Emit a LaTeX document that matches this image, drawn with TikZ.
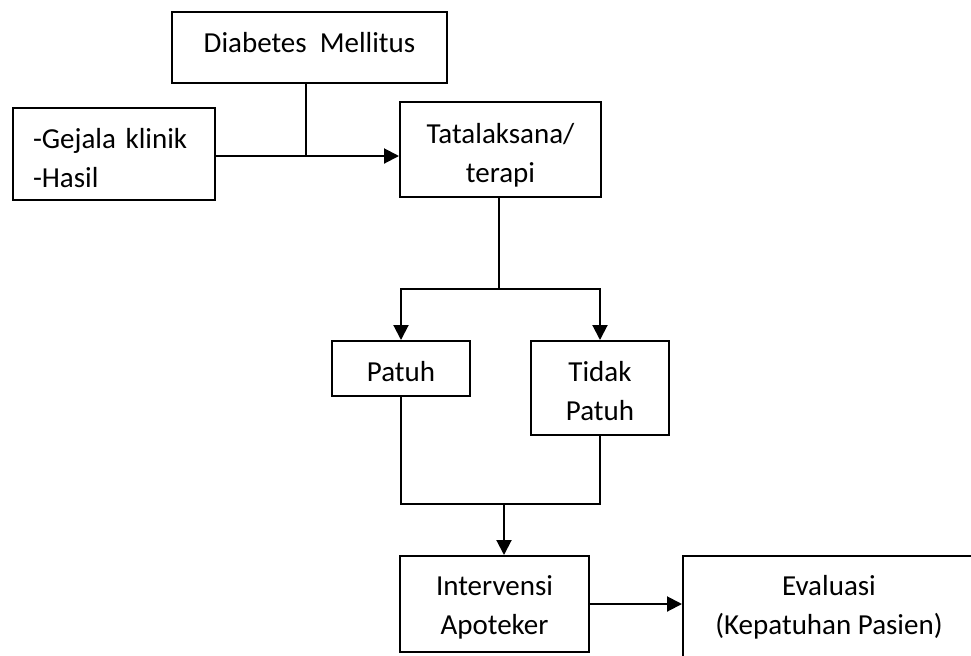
\documentclass[tikz,border=0pt]{standalone}
\usepackage{fontspec}
\setmainfont{Carlito}
\usetikzlibrary{arrows.meta}
\begin{document}
\begin{tikzpicture}[x=0.5pt,y=-0.5pt,line width=1pt,
    box/.style={draw, inner sep=0pt, font=\fontsize{14.5}{19.5}\selectfont, align=center},
    arr/.style={-{Triangle[length=7.5pt,width=7.5pt]}}]
    \useasboundingbox (0,0) rectangle (971,655);

    % Draw boxes
    \node[box, minimum width=137.5pt, minimum height=35.5pt, text height=10pt, text depth=5.5pt] (dm) at (309.5, 47.5) {Diabetes\ \ Mellitus};
    \node[box, align=left, inner xsep=10pt, text width=81pt, minimum height=46pt, text height=13.5pt, text depth=19.5pt] (gejala) at (114, 154) {-Gejala klinik\\-Hasil};
    \node[box, minimum width=100.5pt, minimum height=47.5pt, text height=32.5pt, text depth=0pt] (terapi) at (500.5, 149.5) {Tatalaksana/\\terapi};
    \node[box, minimum width=69pt, minimum height=27.5pt, text height=12.5pt, text depth=0pt] (patuh) at (401, 368.5) {Patuh};
    \node[box, minimum width=69pt, minimum height=47pt, text height=32pt, text depth=0pt] (tidak) at (600, 388) {Tidak\\Patuh};
    \node[box, minimum width=94.5pt, minimum height=48pt, text height=30pt, text depth=0pt] (apoteker) at (494.5, 604) {Intervensi\\Apoteker};
    \node[box, minimum width=146pt, minimum height=53pt, text height=25pt, text depth=0pt] (evaluasi) at (829, 609) {Evaluasi\\(Kepatuhan Pasien)};

    % Junction points
    \coordinate (j1) at (306, 156);
    \coordinate (j2) at (499, 289);
    \coordinate (j3) at (504, 504);

    % Draw connectors
    \draw (dm.south -| j1) -- (j1);
    \draw[arr] (gejala.east |- j1) -- (terapi.west |- j1);
    \draw (terapi.south -| j2) -- (j2);
    \draw[arr] (j2) -| (patuh.north);
    \draw[arr] (j2) -| (tidak.north);
    \draw (patuh.south) |- (tidak.south |- j3) -- (tidak.south);
    \draw[arr] (j3) -- (apoteker.north -| j3);
    \draw[arr] (apoteker.east) -- (evaluasi.west |- apoteker.east);
\end{tikzpicture}
\end{document}
